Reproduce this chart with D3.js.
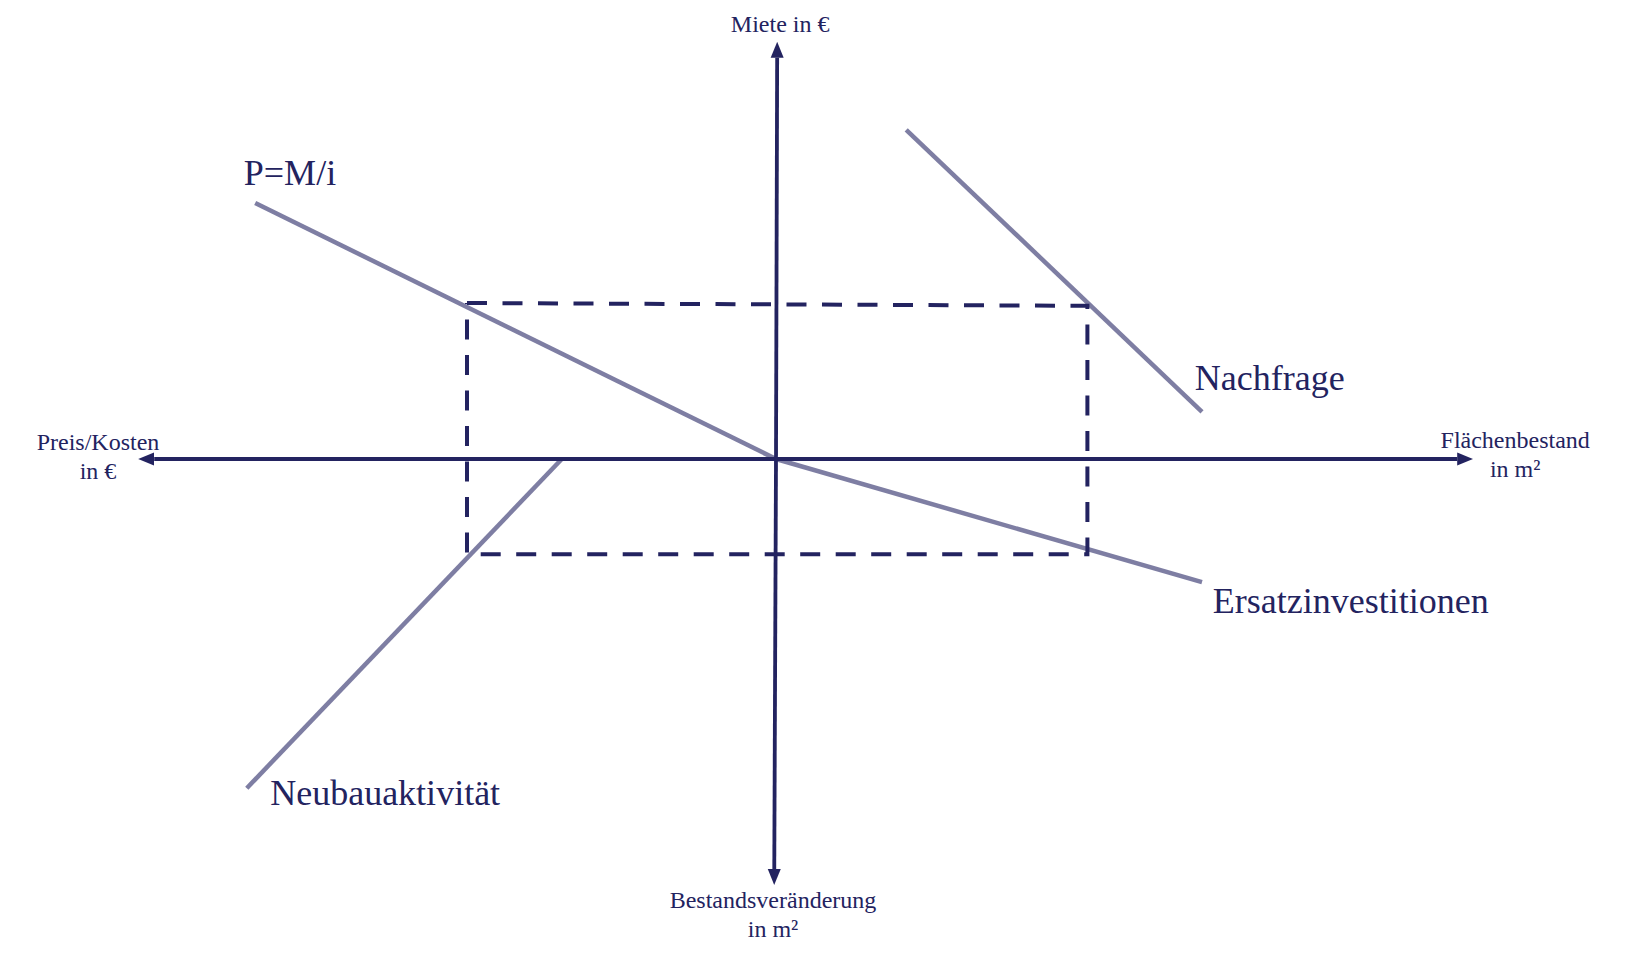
<html>
<head>
  <title>Vier-Quadranten-Modell</title>
  <script src="https://cdnjs.cloudflare.com/ajax/libs/d3/7.8.5/d3.min.js"></script>
  <style>
    body {
      margin: 0;
      background: #fff;
    }
    text {
      font-family: "Liberation Serif", "Times New Roman", serif;
      fill: #23235f;
    }
  </style>
</head>
<body>
  <div id="chart"></div>
  <script>
    // model units: origin = centre of the cross, x to the right, y upward
    var axisEnds = [[-10.63, 0], [11.62, 0], [0.02, 10.43], [-0.03, -10.65]];

    var curveNames = ["P=M/i", "Ersatzinvestitionen", "Nachfrage", "Neubauaktivität"];
    var curvePMi = [[-8.68, 6.4], [0, 0]];
    var curveErsatz = [[0, 0], [7.1, -3.08]];
    var curveNachfrage = [[2.17, 8.23], [7.1, 1.18]];
    var curveNeubau = [[-3.57, 0], [-8.82, -8.23]];

    // equilibrium rectangle (dashed)
    var rectPoints = [[-5.15, 3.9], [5.19, 3.83], [5.19, -2.38], [-5.15, -2.38], [-5.15, 3.9]];

    var curveLabelPos = [[-8.87, 6.85], [7.28, -3.85], [6.98, 1.73], [-8.43, -8.65]];

    var axisLabels = [["Miete in €"], ["Preis/Kosten", "in €"], ["Flächenbestand", "in m²"], ["Bestandsveränderung", "in m²"]];
    var axisLabelPos = [[0.07, 10.68], [-11.3, 0.225], [12.32, 0.275], [-0.05, -11.23]];

    var svgWidth = 1625;
    var svgHeight = 975;
    var svg = d3.select("#chart")
      .append("svg")
      .attr("width", svgWidth)
      .attr("height", svgHeight);

    var xScale = d3.scaleLinear().domain([-10, 10]).range([176, 1376]);
    var yScale = d3.scaleLinear().domain([-10, 10]).range([859, 59]);

    var axisColor = "#232360";
    var curveColor = "#7e7ea3";

    svg.append("defs").append("marker")
      .attr("id", "head")
      .attr("markerUnits", "userSpaceOnUse")
      .attr("viewBox", "0 -7 16 14")
      .attr("refX", 0)
      .attr("refY", 0)
      .attr("markerWidth", 16)
      .attr("markerHeight", 14)
      .attr("orient", "auto")
      .append("path")
      .attr("d", "M0,-6.5L16,0L0,6.5Z")
      .attr("fill", axisColor);

    var line = d3.line()
      .x(function(d) { return xScale(d[0]); })
      .y(function(d) { return yScale(d[1]); });

    // curves
    var curves = [curvePMi, curveErsatz, curveNachfrage, curveNeubau];
    svg.selectAll(".curve")
      .data(curves)
      .enter().append("path")
      .attr("class", "curve")
      .attr("d", line)
      .attr("fill", "none")
      .attr("stroke", curveColor)
      .attr("stroke-width", 4.5);

    // dashed rectangle
    svg.append("path")
      .attr("d", line(rectPoints))
      .attr("fill", "none")
      .attr("stroke", axisColor)
      .attr("stroke-width", 4)
      .attr("stroke-dasharray", "20,15.5");

    // axes: four arrows leaving the origin, shortened by the head length
    svg.selectAll(".axis")
      .data(axisEnds)
      .enter().append("line")
      .attr("class", "axis")
      .each(function(d) {
        var x0 = xScale(0), y0 = yScale(0);
        var x1 = xScale(d[0]), y1 = yScale(d[1]);
        var len = Math.sqrt((x1 - x0) * (x1 - x0) + (y1 - y0) * (y1 - y0));
        var k = (len - 16) / len;
        d3.select(this)
          .attr("x1", x0).attr("y1", y0)
          .attr("x2", x0 + (x1 - x0) * k)
          .attr("y2", y0 + (y1 - y0) * k);
      })
      .attr("stroke", axisColor)
      .attr("stroke-width", 3.8)
      .attr("marker-end", "url(#head)");

    // curve labels
    svg.selectAll(".curve-label")
      .data(curveNames)
      .enter().append("text")
      .attr("class", "curve-label")
      .attr("x", function(d, i) { return xScale(curveLabelPos[i][0]); })
      .attr("y", function(d, i) { return yScale(curveLabelPos[i][1]); })
      .style("font-size", "36px")
      .text(function(d) { return d; });

    // axis labels
    var al = svg.selectAll(".axis-label")
      .data(axisLabels)
      .enter().append("text")
      .attr("class", "axis-label")
      .attr("text-anchor", "middle")
      .style("font-size", "24px")
      .attr("x", function(d, i) { return xScale(axisLabelPos[i][0]); })
      .attr("y", function(d, i) { return yScale(axisLabelPos[i][1]); });

    al.selectAll("tspan")
      .data(function(d, i) { return d.map(function(t) { return { t: t, x: xScale(axisLabelPos[i][0]) }; }); })
      .enter().append("tspan")
      .attr("x", function(d) { return d.x; })
      .attr("dy", function(d, j) { return j === 0 ? 0 : 29; })
      .text(function(d) { return d.t; });
  </script>
</body>
</html>
